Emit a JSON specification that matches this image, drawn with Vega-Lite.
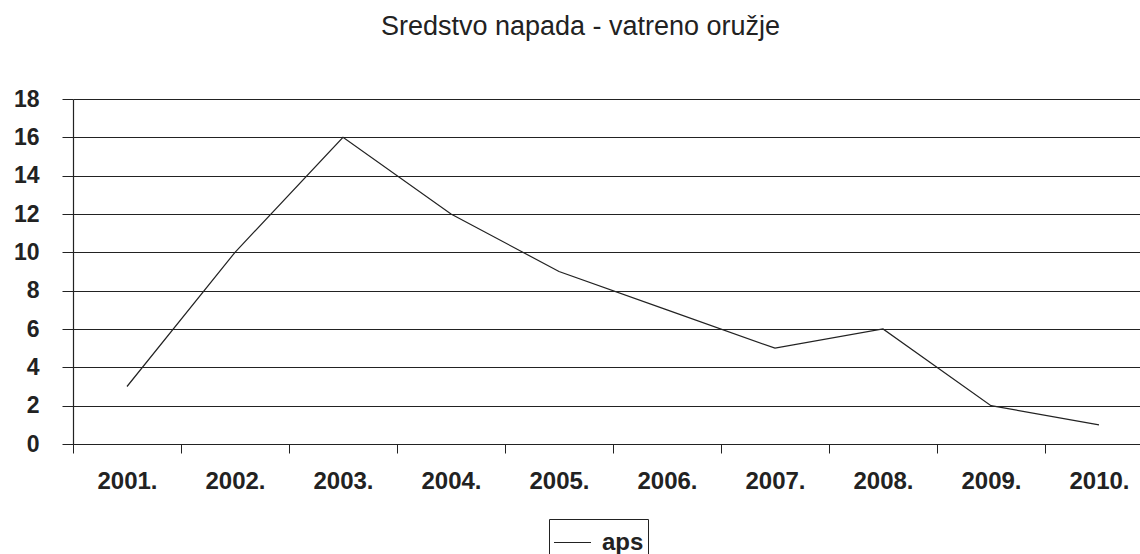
{
  "$schema": "https://vega.github.io/schema/vega-lite/v6.json",
  "autosize": {"type": "none"},
  "padding": {"left": 73, "top": 99, "right": 0, "bottom": 110},
  "width": 1067,
  "height": 345,
  "background": "white",
  "title": {
    "text": "Sredstvo napada - vatreno oružje",
    "font": "Liberation Sans",
    "fontSize": 27,
    "fontWeight": "normal",
    "color": "#222222",
    "anchor": "middle",
    "frame": "group",
    "dx": -26,
    "offset": 47
  },
  "config": {
    "view": {"stroke": null},
    "font": "Liberation Sans"
  },
  "data": {
    "values": [
      {"year": "2001.", "value": 3, "series": "aps"},
      {"year": "2002.", "value": 10, "series": "aps"},
      {"year": "2003.", "value": 16, "series": "aps"},
      {"year": "2004.", "value": 12, "series": "aps"},
      {"year": "2005.", "value": 9, "series": "aps"},
      {"year": "2006.", "value": 7, "series": "aps"},
      {"year": "2007.", "value": 5, "series": "aps"},
      {"year": "2008.", "value": 6, "series": "aps"},
      {"year": "2009.", "value": 2, "series": "aps"},
      {"year": "2010.", "value": 1, "series": "aps"}
    ]
  },
  "mark": {"type": "line", "strokeWidth": 1.2, "clip": false},
  "encoding": {
    "x": {
      "field": "year",
      "type": "ordinal",
      "sort": null,
      "scale": {"type": "band", "range": [0, 1080], "paddingInner": 0, "paddingOuter": 0},
      "axis": {
        "title": null,
        "labelAngle": 0,
        "labelFont": "Liberation Sans",
        "labelFontSize": 24,
        "labelFontWeight": "bold",
        "labelColor": "#222222",
        "labelPadding": 16,
        "tickBand": "extent",
        "tickSize": 9,
        "tickColor": "#222222",
        "domainColor": "#222222",
        "domainWidth": 1.2,
        "grid": false
      }
    },
    "y": {
      "field": "value",
      "type": "quantitative",
      "scale": {"domain": [0, 18], "nice": false},
      "axis": {
        "title": null,
        "values": [0, 2, 4, 6, 8, 10, 12, 14, 16, 18],
        "labelFont": "Liberation Sans",
        "labelFontSize": 23,
        "labelFontWeight": "bold",
        "labelColor": "#222222",
        "labelPadding": 23,
        "tickSize": 11,
        "tickColor": "#222222",
        "domainColor": "#222222",
        "domainWidth": 1.2,
        "grid": true,
        "gridColor": "#222222",
        "gridOpacity": 1,
        "gridWidth": 1.2
      }
    },
    "color": {
      "field": "series",
      "type": "nominal",
      "scale": {"range": ["#222222"]},
      "legend": {
        "title": null,
        "orient": "none",
        "legendX": 476,
        "legendY": 420,
        "symbolType": "stroke",
        "symbolSize": 1369,
        "symbolStrokeWidth": 1.2,
        "labelFont": "Liberation Sans",
        "labelFontSize": 24,
        "labelFontWeight": "bold",
        "labelColor": "#222222",
        "labelOffset": 10,
        "strokeColor": "#222222",
        "padding": 4
      }
    }
  }
}
